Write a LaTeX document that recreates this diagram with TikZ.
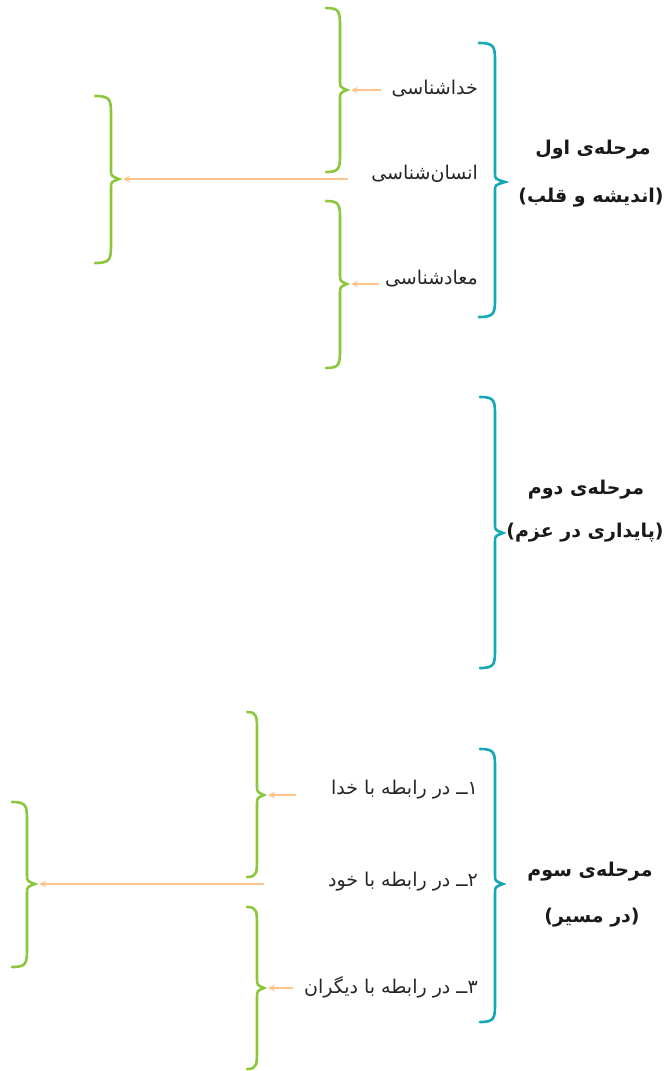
\documentclass[tikz,border=0pt]{standalone}
\usepackage{fontspec}
\newfontfamily\fa[Script=Arabic]{DejaVu Sans}
\TeXXeTstate=1
\usetikzlibrary{arrows.meta}
\definecolor{brgreen}{HTML}{8CC63F}
\definecolor{brteal}{HTML}{12A8B5}
\definecolor{arrcol}{HTML}{FFC48C}
\newcommand\mybrace[7]{% style, xend, xspine, xtip, ytop, ybot, ymid
  \draw[#1] (#2,#5) .. controls (#3,#5) and (#3,#5+4) .. (#3,#5+20)
    -- (#3,#7-9) .. controls (#3,#7-3) .. (#4,#7)
    .. controls (#3,#7+3) .. (#3,#7+9)
    -- (#3,#6-20) .. controls (#3,#6-4) and (#3,#6) .. (#2,#6);}
\begin{document}
\begin{tikzpicture}[x=1pt,y=-1pt,
  gbr/.style={draw=brgreen,line width=2.6pt,line cap=round},
  tbr/.style={draw=brteal,line width=2.6pt,line cap=round},
  arrst/.style={draw=arrcol,line width=1.3pt,-{Stealth[length=7pt,width=6.5pt]}},
  txt/.style={inner sep=0pt,font=\fa\fontsize{19}{23}\selectfont,text=black!85},
  ttl/.style={inner sep=0pt,font=\fa\bfseries\fontsize{19}{23}\selectfont,text=black!90}]
\useasboundingbox (0,0) rectangle (668,1071);
% ---------- stage 1 ----------
\mybrace{gbr}{326}{340}{347}{8}{172}{90}
\mybrace{gbr}{95}{111}{119}{96}{263}{179}
\mybrace{gbr}{326}{340}{347}{201}{368}{284}
\mybrace{tbr}{479}{495}{505}{43}{317}{182}
\node[txt,anchor=east] (s1a) at (478,89) {\beginR خداشناسی\endR};
\node[txt,anchor=east] (s1b) at (478,174) {\beginR انسان‌شناسی\endR};
\node[txt,anchor=east] (s1c) at (478,279) {\beginR معادشناسی\endR};
\coordinate (p1a) at (381,90);  \coordinate (q1a) at (351,90);
\coordinate (p1b) at (348,179); \coordinate (q1b) at (123,179);
\coordinate (p1c) at (379,284); \coordinate (q1c) at (351,284);
\draw[arrst] (p1a) -- (q1a);
\draw[arrst] (p1b) -- (q1b);
\draw[arrst] (p1c) -- (q1c);
\node[ttl] (h1a) at (593,150) {\beginR مرحله‌ی اول\endR};
\node[ttl] (h1b) at (591,198) {\beginR (اندیشه و قلب)\endR};
% ---------- stage 2 ----------
\mybrace{tbr}{480}{495}{503}{397}{668}{533}
\node[ttl] (h2a) at (586,490) {\beginR مرحله‌ی دوم\endR};
\node[ttl] (h2b) at (585,533) {\beginR (پایداری در عزم)\endR};
% ---------- stage 3 ----------
\mybrace{gbr}{247}{257}{264}{712}{877}{795}
\mybrace{gbr}{12}{27}{35}{802}{967}{884}
\mybrace{gbr}{247}{257}{264}{907}{1069}{988}
\mybrace{tbr}{480}{495}{503}{749}{1022}{884}
\node[txt,anchor=east] (s3a) at (478,790) {\beginR ۱ــ در رابطه با خدا\endR};
\node[txt,anchor=east] (s3b) at (478,882) {\beginR ۲ــ در رابطه با خود\endR};
\node[txt,anchor=east] (s3c) at (478,987) {\beginR ۳ــ در رابطه با دیگران\endR};
\coordinate (p3a) at (296,795); \coordinate (q3a) at (268,795);
\coordinate (p3b) at (264,884); \coordinate (q3b) at (39,884);
\coordinate (p3c) at (293,988); \coordinate (q3c) at (268,988);
\draw[arrst] (p3a) -- (q3a);
\draw[arrst] (p3b) -- (q3b);
\draw[arrst] (p3c) -- (q3c);
\node[ttl] (h3a) at (590,872) {\beginR مرحله‌ی سوم\endR};
\node[ttl] (h3b) at (592,918) {\beginR (در مسیر)\endR};
\end{tikzpicture}
\end{document}
